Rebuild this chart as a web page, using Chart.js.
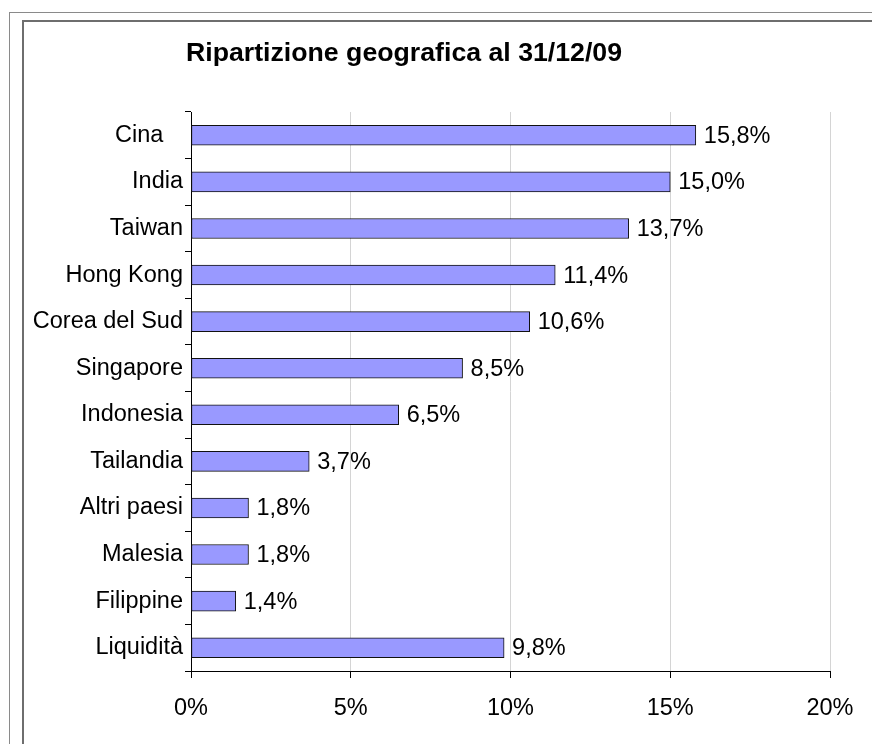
<!DOCTYPE html>
<html>
<head>
<meta charset="utf-8">
<script src="https://cdn.jsdelivr.net/npm/chart.js@4.4.1/dist/chart.umd.min.js"></script>
<style>
    body{margin:0;background:#fff}
    #wrap{width:872px;height:744px;position:relative}
</style>
</head>
<body>
<div id="wrap"><canvas id="myChart" width="872" height="744"></canvas></div>
<script>
var categories = ["Cina   ", "India", "Taiwan", "Hong Kong", "Corea del Sud", "Singapore", "Indonesia", "Tailandia", "Altri paesi", "Malesia", "Filippine", "Liquidità"]
var values = [15.8, 15.0, 13.7, 11.4, 10.6, 8.5, 6.5, 3.7, 1.8, 1.8, 1.4, 9.8]
var xTicks = [0, 5, 10, 15, 20]
var titleText = "Ripartizione geografica al 31/12/09"

var FONT = "'Liberation Sans', Arial, sans-serif"
var FSIZE = 23.5

function pct(v){
    return v.toFixed(1).replace(".", ",") + "%"
}

var frames = {
    id: "frames",
    beforeDraw(chart){
        var c = chart.ctx
        c.save()
        c.fillStyle = "#fff"
        c.fillRect(0, 0, chart.width, chart.height)
        c.strokeStyle = "#8a8a8a"
        c.lineWidth = 1
        c.strokeRect(9.5, 12.5, 1000, 1000)
        c.strokeStyle = "#6e6e6e"
        c.lineWidth = 2
        c.strokeRect(23, 21, 1000, 1000)
        c.restore()
    },
    afterDraw(chart){
        var c = chart.ctx
        c.save()
        c.font = "bold 26.7px " + FONT
        c.fillStyle = "#000"
        c.textAlign = "center"
        c.textBaseline = "alphabetic"
        c.fillText(titleText, 404, 61)
        c.restore()
    }
}

var valueLabels = {
    id: "valueLabels",
    afterDatasetsDraw(chart){
        var c = chart.ctx
        var meta = chart.getDatasetMeta(0)
        c.save()
        c.font = FSIZE + "px " + FONT
        c.fillStyle = "#000"
        c.textAlign = "left"
        c.textBaseline = "middle"
        meta.data.forEach((bar, i)=>{
            c.fillText(pct(values[i]), bar.x + 8, bar.y + 1)
        })
        c.restore()
    }
}

new Chart(document.getElementById("myChart"), {
    type: "bar",
    data: {
        labels: categories,
        datasets: [{
            data: values,
            backgroundColor: "#9999ff",
            borderColor: "#111",
            borderWidth: 1,
            borderSkipped: false,
            barThickness: 20
        }]
    },
    options: {
        indexAxis: "y",
        responsive: false,
        animation: false,
        devicePixelRatio: 1,
        layout: {padding: {top: 112, right: 42, left: 0, bottom: 0}},
        plugins: {legend: {display: false}, tooltip: {enabled: false}, title: {display: false}},
        scales: {
            x: {
                min: 0, max: 20,
                afterBuildTicks: (s)=>{ s.ticks = xTicks.map(v=>({value: v})) },
                afterFit: (s)=>{ s.height = 73 },
                ticks: {callback: (v)=>v + "%", color: "#000", font: {family: FONT, size: FSIZE}, padding: 16, maxRotation: 0},
                grid: {color: "#d4d4d4", tickColor: "#000", tickLength: 7, lineWidth: 1},
                border: {color: "#000", width: 1}
            },
            y: {
                afterFit: (s)=>{ s.width = 191 },
                ticks: {color: "#000", font: {family: FONT, size: FSIZE}, padding: 2},
                grid: {drawOnChartArea: false, tickColor: "#000", tickLength: 6, offset: true},
                border: {color: "#000", width: 1}
            }
        }
    },
    plugins: [frames, valueLabels]
})
</script>
</body>
</html>
